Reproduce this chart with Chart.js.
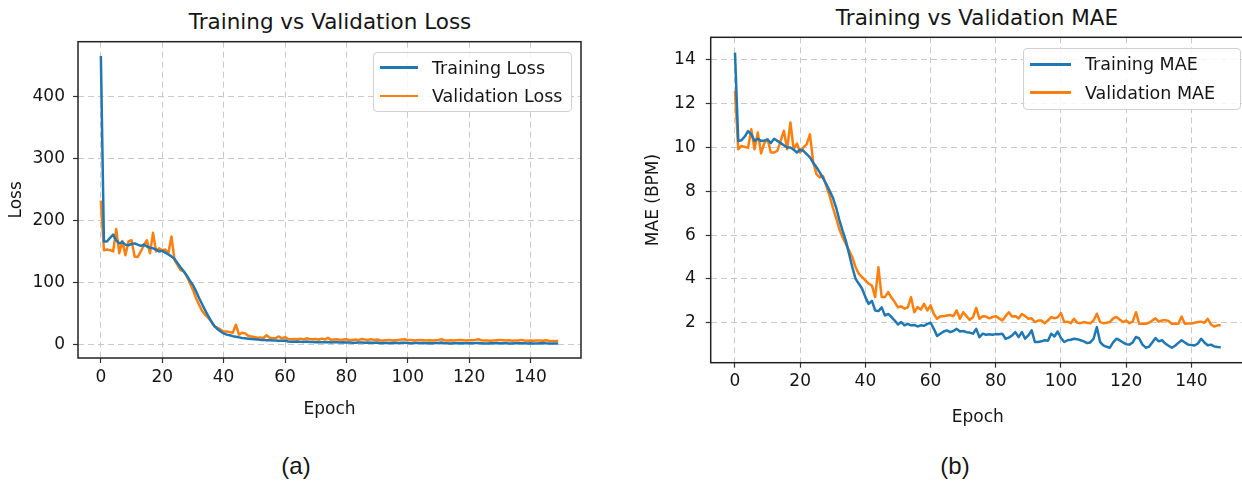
<!DOCTYPE html>
<html lang="en">
<head>
    <meta charset="UTF-8">
    <title>Training vs Validation Loss / MAE</title>
    <script src="https://cdn.jsdelivr.net/npm/chart.js"></script>
    <style>
        html, body {
            margin: 0;
            padding: 0;
            background: #fff;
            overflow: hidden;
        }
        body {
            position: relative;
            width: 1242px;
            height: 481px;
            font-family: "DejaVu Sans", sans-serif;
            color: #151515;
        }
        canvas {
            position: absolute;
            top: 0;
        }
        #lossChart { left: 0; }
        #maeChart { left: 620px; }
        .title {
            position: absolute;
            font-size: 21.5px;
            line-height: 24px;
            white-space: nowrap;
            transform: translateX(-50%);
        }
        .caption {
            position: absolute;
            font-family: "Liberation Sans", Arial, sans-serif;
            font-size: 24px;
            line-height: 28px;
            transform: translateX(-50%);
        }
        .legend {
            position: absolute;
            box-sizing: border-box;
            border: 1px solid #d0d0d0;
            border-radius: 4px;
            background: rgba(255, 255, 255, 0.85);
        }
        .legend .swatch {
            position: absolute;
            height: 2.6px;
        }
        .legend .label {
            position: absolute;
            font-size: 17.5px;
            line-height: 20px;
            white-space: nowrap;
        }
    </style>
</head>
<body>
    <div class="title" style="left:330px; top:10px;">Training vs Validation Loss</div>
    <div class="title" style="left:977px; top:6px;">Training vs Validation MAE</div>

    <canvas id="lossChart" width="620" height="420"></canvas>
    <canvas id="maeChart" width="625" height="428"></canvas>

    <!-- legends -->
    <div class="legend" style="left:373px; top:52px; width:199px; height:60px;">
        <div class="swatch" style="left:6px; top:13.4px; width:38px; background:#1f77b4;"></div>
        <div class="label" style="left:58px; top:4.7px;">Training Loss</div>
        <div class="swatch" style="left:6px; top:41.7px; width:38px; background:#ff7f0e;"></div>
        <div class="label" style="left:58px; top:33px;">Validation Loss</div>
    </div>
    <div class="legend" style="left:1023px; top:48px; width:218px; height:62px;">
        <div class="swatch" style="left:6px; top:14px; width:41px; background:#1f77b4;"></div>
        <div class="label" style="left:61px; top:5.3px;">Training MAE</div>
        <div class="swatch" style="left:6px; top:42.4px; width:41px; background:#ff7f0e;"></div>
        <div class="label" style="left:61px; top:33.7px;">Validation MAE</div>
    </div>

    <div class="caption" style="left:296px; top:452px;">(a)</div>
    <div class="caption" style="left:955px; top:452px;">(b)</div>

    <script>
        // epochs 0..149
        const epochs = Array.from({ length: 150 }, (_, i) => i);
        const epochTicks = [0, 20, 40, 60, 80, 100, 120, 140];
        const lossTicks = [0, 100, 200, 300, 400];
        const maeTicks = [2, 4, 6, 8, 10, 12, 14];

        const trainLoss = [
            465, 166, 166, 172, 177, 168, 163, 165, 161, 160,
            162, 163, 161, 159, 161, 158, 156, 155, 153, 150,
            151, 148, 145, 142, 138, 131, 124, 118, 111, 103,
            96, 86, 75, 65, 55, 46, 37, 30, 25, 21,
            18, 16, 15, 13.5, 12.5, 11.5, 10.5, 10, 9.5, 9,
            8.5, 8, 7.5, 7.5, 7, 7, 6.5, 6.5, 6, 6,
            6.5, 5, 4.5, 4.5, 5, 4.5, 4.2, 4.8, 4, 4.2,
            3.8, 4, 3.8, 3.6, 4.2, 3.4, 3.6, 3.5, 3.4, 3.5,
            3.3, 3.4, 2.8, 3, 3.2, 3.4, 2.9, 3.3, 2.7, 3,
            3.1, 2.6, 2.4, 2.5, 2.6, 2.4, 2.8, 2.6, 3, 2.7,
            2.4, 2.2, 2.3, 2.5, 2.4, 2.3, 2.1, 2, 2.2, 2.3,
            2.5, 3.2, 2.2, 2, 1.8, 2, 2.2, 2.4, 2.2, 2,
            1.9, 2.1, 2.3, 2.5, 2.2, 1.8, 1.7, 1.9, 2.1, 2.3,
            2, 2.2, 2, 1.8, 1.7, 1.9, 2.1, 2.2, 2, 1.8,
            1.9, 1.8, 1.7, 2.1, 2.3, 1.9, 1.7, 1.8, 1.6, 1.6
        ];
        const valLoss = [
            232, 152, 153, 152, 150, 186, 147, 167, 144, 166,
            168, 142, 141, 150, 160, 168, 147, 180, 150, 155,
            152, 153, 147, 174, 136, 128, 120, 118, 110, 99,
            88, 75, 64, 54, 48, 43, 37, 29, 27, 24,
            21, 21, 20, 19, 32, 16, 19, 18, 14, 13,
            12, 11, 11.5, 10.5, 15, 11, 10, 10.5, 13, 10,
            12, 9, 8.5, 9, 8.5, 9.5, 8, 10, 9, 8.5,
            9, 8, 9.5, 8, 11, 7.5, 8, 8.5, 7.5, 8,
            8.5, 7, 7.5, 8, 7, 9, 8, 7.5, 8.5, 7.5,
            8, 7, 6.5, 7, 7.5, 6.5, 7, 7.5, 8, 8.5,
            7, 7.5, 6.5, 7, 7.5, 7, 6.5, 7, 6.5, 7,
            7.5, 8.5, 7, 6.5, 7, 6.5, 7, 7.5, 7, 6.5,
            7, 7, 7.5, 8.5, 7, 6.5, 6.5, 6, 6.5, 7,
            7.5, 7, 6.5, 7, 6, 6.5, 6.5, 7.5, 6.5, 6,
            6.5, 6, 6.5, 6.5, 6, 7, 6, 5.5, 5.5, 6
        ];
        const trainMae = [
            14.33, 10.3, 10.33, 10.5, 10.75, 10.6, 10.3, 10.4, 10.3, 10.32,
            10.36, 10.2, 10.4, 10.3, 10.2, 10.1, 10.0, 10.0, 9.9, 9.77,
            9.9, 9.85, 9.7, 9.55, 9.3, 9.1, 8.86, 8.6, 8.33, 8.03,
            7.72, 7.27, 6.7, 6.2, 5.75, 5.14, 4.53, 4.0, 3.78, 3.55,
            3.17, 2.86, 3.0, 2.56, 2.53, 2.7, 2.33, 2.4, 2.26, 2.1,
            1.92, 2.03, 1.88, 1.95, 1.88, 1.9, 1.83, 1.88, 1.86, 1.95,
            2.0, 1.72, 1.4, 1.5, 1.6, 1.65, 1.57, 1.62, 1.72, 1.6,
            1.62, 1.57, 1.55, 1.5, 1.72, 1.34, 1.5, 1.45, 1.47, 1.45,
            1.48, 1.47, 1.5, 1.27, 1.32, 1.42, 1.57, 1.34, 1.57, 1.27,
            1.42, 1.65, 1.12, 1.12, 1.15, 1.2, 1.18, 1.5, 1.37, 1.6,
            1.3, 1.12, 1.2, 1.22, 1.27, 1.25, 1.2, 1.15, 1.07, 1.1,
            1.27, 1.8, 1.12, 0.97, 0.9, 0.86, 1.1, 1.27, 1.2, 1.1,
            1.02, 1.0, 1.1, 1.35, 1.28, 1.0, 0.86, 0.9, 1.1, 1.3,
            1.15, 1.2, 1.05, 0.95, 0.86, 0.95, 1.08, 1.2, 1.1, 1.0,
            0.98, 0.96, 1.05, 1.27, 1.1, 0.97, 1.0, 0.92, 0.89, 0.88
        ];
        const valMae = [
            12.58, 9.92, 10.07, 10.03, 9.98, 10.83, 9.92, 10.68, 9.73, 10.2,
            10.38, 9.77, 9.77, 9.85, 10.3, 10.76, 9.92, 11.14, 9.92, 10.18,
            9.77, 10.0, 10.15, 10.6, 9.32, 8.78, 8.63, 8.7, 8.25, 7.8,
            7.27, 6.8, 6.28, 5.9, 5.6, 5.29, 4.99, 4.53, 4.23, 4.08,
            3.93, 3.78, 3.7, 3.17, 4.53, 3.17, 3.17, 3.4, 3.15, 2.94,
            2.7, 2.75, 2.64, 2.7, 3.17, 2.48, 2.71, 2.6, 2.86, 2.56,
            2.79, 2.4, 2.18, 2.29, 2.3, 2.33, 2.35, 2.3, 2.56, 2.18,
            2.48, 2.3, 2.13, 2.25, 2.68, 2.18, 2.3, 2.28, 2.2, 2.26,
            2.3, 2.2, 2.1, 2.3, 2.48, 2.28, 2.3, 2.2, 2.4, 2.3,
            2.18, 2.2, 2.03, 2.1, 2.1, 1.98, 2.1, 2.26, 2.2, 2.25,
            2.44, 2.03, 2.05, 1.98, 2.18, 2.0, 1.98, 2.03, 2.0, 1.98,
            2.1, 2.41, 2.03, 1.98, 2.0, 2.03, 2.2, 2.26, 2.15, 2.03,
            2.1, 1.98, 2.05, 2.48, 1.95, 1.95, 1.95, 2.0, 2.1, 2.2,
            2.05, 2.1, 2.12, 2.08, 1.95, 1.95, 1.95, 2.28, 1.95, 1.96,
            1.96, 2.0, 2.03, 2.05, 2.0, 2.18, 1.92, 1.83, 1.88, 1.88
        ];

        const BLUE = '#1f77b4';
        const ORANGE = '#ff7f0e';
        const GRID = '#c9c9c9';
        const TEXT = '#151515';
        const FONT = { family: '"DejaVu Sans", sans-serif', size: 17 };

        // matplotlib-like box around the plot area
        const framePlugin = {
            id: 'frame',
            afterDraw(chart) {
                const a = chart.chartArea;
                const ctx = chart.ctx;
                ctx.save();
                ctx.strokeStyle = '#222';
                ctx.lineWidth = 1.5;
                ctx.strokeRect(a.left, a.top, a.right - a.left, a.bottom - a.top);
                ctx.restore();
            }
        };

        function toPoints(values) {
            return values.map((v, i) => ({ x: epochs[i], y: v }));
        }

        function makeChart(id, cfg) {
            const ctx = document.getElementById(id).getContext('2d');
            return new Chart(ctx, {
                type: 'line',
                data: {
                    datasets: [
                        { label: cfg.names[0], data: toPoints(cfg.series[0]), borderColor: BLUE },
                        { label: cfg.names[1], data: toPoints(cfg.series[1]), borderColor: ORANGE }
                    ]
                },
                options: {
                    responsive: false,
                    animation: false,
                    devicePixelRatio: 1,
                    layout: { padding: { top: cfg.padTop, right: cfg.padRight, left: 0, bottom: 0 } },
                    plugins: { legend: { display: false }, tooltip: { enabled: false } },
                    elements: {
                        point: { radius: 0 },
                        line: { borderWidth: 2.5, tension: 0, borderJoinStyle: 'round' }
                    },
                    scales: {
                        x: {
                            type: 'linear',
                            min: -7.45,
                            max: 156.45,
                            afterBuildTicks: s => { s.ticks = epochTicks.map(v => ({ value: v })); },
                            afterFit: s => { s.height = cfg.xHeight; },
                            grid: { color: GRID, tickColor: '#333', tickLength: 5, tickWidth: 1.2 },
                            border: { display: false, dash: [6, 4] },
                            ticks: { font: FONT, color: TEXT, padding: 4, maxRotation: 0 },
                            title: { display: true, text: 'Epoch', font: FONT, color: TEXT, padding: 0 }
                        },
                        y: {
                            type: 'linear',
                            min: cfg.yMin,
                            max: cfg.yMax,
                            afterBuildTicks: s => { s.ticks = cfg.yTicks.map(v => ({ value: v })); },
                            afterFit: s => { s.width = cfg.yWidth; },
                            grid: { color: GRID, tickColor: '#333', tickLength: 5, tickWidth: 1.2 },
                            border: { display: false, dash: [6, 4] },
                            ticks: { font: FONT, color: TEXT, padding: cfg.yTickPad },
                            title: { display: true, text: cfg.yTitle, font: FONT, color: TEXT, padding: { top: cfg.yTitlePad, bottom: 0 } }
                        }
                    }
                },
                plugins: [framePlugin]
            });
        }

        makeChart('lossChart', {
            names: ['Training Loss', 'Validation Loss'],
            series: [trainLoss, valLoss],
            yTitle: 'Loss',
            yTicks: lossTicks,
            yMin: -21.7,
            yMax: 488,
            padTop: 41.7,
            padRight: 39,
            xHeight: 62,
            yWidth: 78,
            yTickPad: 8,
            yTitlePad: 6
        });

        makeChart('maeChart', {
            names: ['Training MAE', 'Validation MAE'],
            series: [trainMae, valMae],
            yTitle: 'MAE (BPM)',
            yTicks: maeTicks,
            yMin: 0.175,
            yMax: 15.03,
            padTop: 37.3,
            padRight: 0,
            xHeight: 65.3,
            yWidth: 90.7,
            yTickPad: 10,
            yTitlePad: 23
        });
    </script>
</body>
</html>
